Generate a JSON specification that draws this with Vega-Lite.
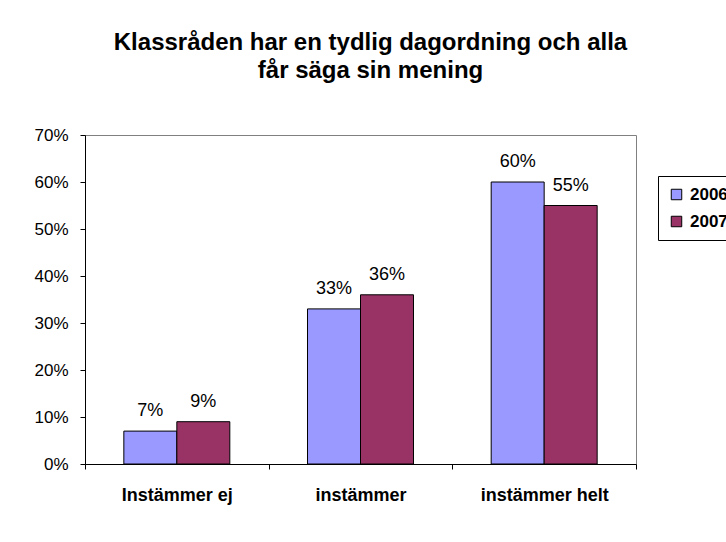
{
  "$schema": "https://vega.github.io/schema/vega-lite/v6.json",
  "width": 551,
  "height": 329,
  "autosize": {"type": "none"},
  "padding": {"left": 85, "top": 135, "right": 90, "bottom": 78},
  "background": "white",
  "title": {
    "text": ["Klassråden har en tydlig dagordning och alla", "får säga sin mening"],
    "font": "Liberation Sans",
    "fontSize": 24,
    "fontWeight": "bold",
    "color": "black",
    "lineHeight": 28,
    "anchor": "middle",
    "frame": "group",
    "baseline": "alphabetic",
    "dx": 10,
    "offset": 24
  },
  "data": {
    "values": [
      {"kategori": "Instämmer ej", "år": "2006", "andel": 0.07},
      {"kategori": "Instämmer ej", "år": "2007", "andel": 0.09},
      {"kategori": "instämmer", "år": "2006", "andel": 0.33},
      {"kategori": "instämmer", "år": "2007", "andel": 0.36},
      {"kategori": "instämmer helt", "år": "2006", "andel": 0.60},
      {"kategori": "instämmer helt", "år": "2007", "andel": 0.55}
    ]
  },
  "encoding": {
    "x": {
      "field": "kategori",
      "type": "nominal",
      "sort": null,
      "scale": {"paddingInner": 0, "paddingOuter": 0},
      "axis": {
        "title": null,
        "labelAngle": 0,
        "labelFont": "Liberation Sans",
        "labelFontSize": 18,
        "labelFontWeight": "bold",
        "labelColor": "black",
        "labelPadding": 17,
        "tickBand": "extent",
        "tickSize": 5,
        "tickColor": "black",
        "domainColor": "black"
      }
    },
    "xOffset": {
      "field": "år",
      "type": "nominal",
      "scale": {"paddingInner": 0, "paddingOuter": 0.733}
    },
    "y": {
      "field": "andel",
      "type": "quantitative",
      "scale": {"domain": [0, 0.7]},
      "axis": {
        "title": null,
        "format": ".0%",
        "values": [0, 0.1, 0.2, 0.3, 0.4, 0.5, 0.6, 0.7],
        "grid": false,
        "labelFont": "Liberation Sans",
        "labelFontSize": 17,
        "labelColor": "black",
        "labelPadding": 12,
        "tickSize": 5,
        "tickColor": "black",
        "domainColor": "black"
      }
    }
  },
  "layer": [
    {
      "mark": {"type": "bar", "stroke": "black", "strokeWidth": 1},
      "encoding": {
        "color": {
          "field": "år",
          "type": "nominal",
          "scale": {"domain": ["2006", "2007"], "range": ["#9999FF", "#993366"]},
          "legend": {
            "title": null,
            "orient": "none",
            "legendX": 573,
            "legendY": 41,
            "strokeColor": "black",
            "padding": 10,
            "symbolType": "square",
            "symbolSize": 110,
            "symbolStrokeColor": "black",
            "symbolStrokeWidth": 1,
            "labelFont": "Liberation Sans",
            "labelFontSize": 17,
            "labelFontWeight": "bold",
            "labelColor": "black",
            "labelOffset": 5,
            "rowPadding": 9
          }
        }
      }
    },
    {
      "mark": {
        "type": "text",
        "font": "Liberation Sans",
        "fontSize": 18,
        "color": "black",
        "baseline": "alphabetic",
        "dy": -15
      },
      "encoding": {
        "text": {"field": "andel", "type": "quantitative", "format": ".0%"}
      }
    }
  ],
  "config": {
    "view": {"stroke": "#808080", "strokeWidth": 1}
  }
}
